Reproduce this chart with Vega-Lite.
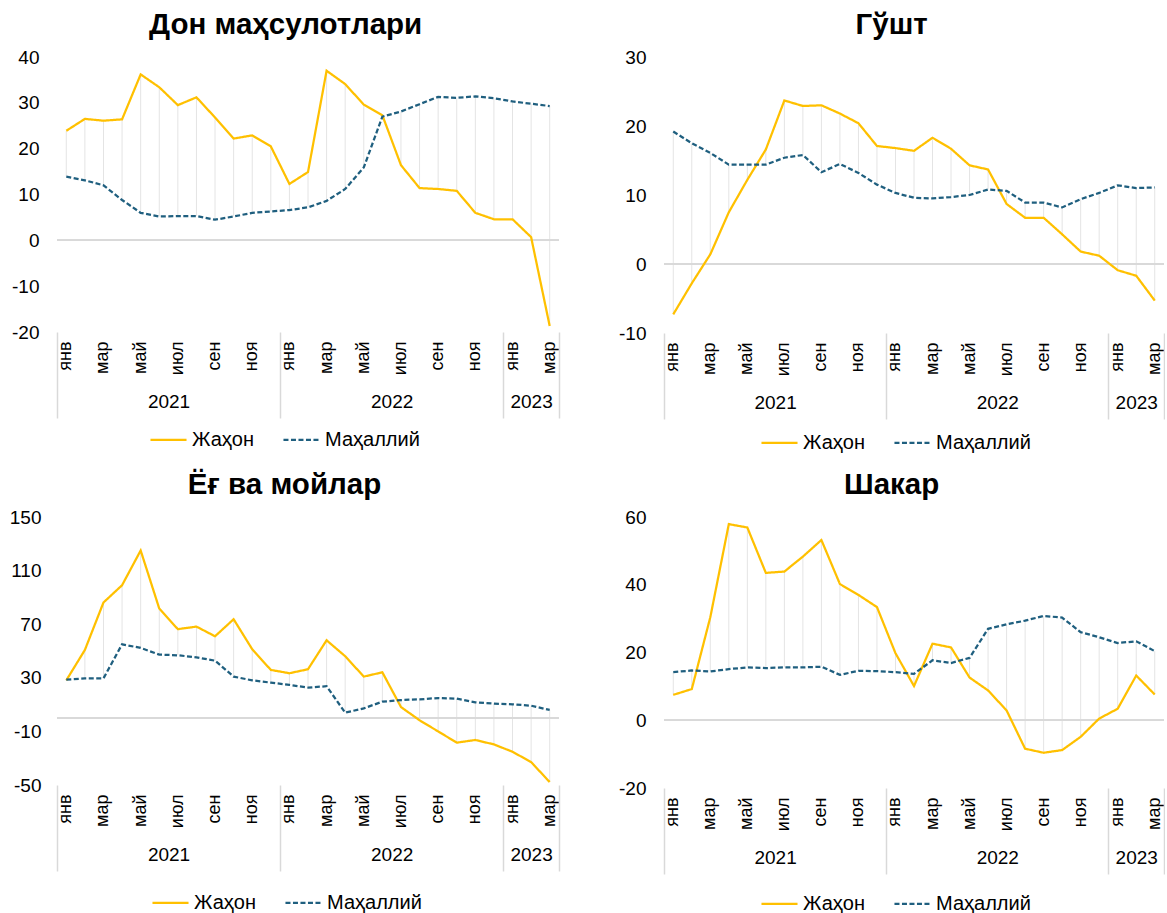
{
  "$schema": "https://vega.github.io/schema/vega-lite/v6.json",
  "background": "white",
  "padding": {"left": 9, "top": 9, "right": 0, "bottom": 0},
  "bounds": "flush",
  "columns": 2,
  "spacing": {"row": 184, "column": 105},
  "config": {
    "view": {"stroke": null},
    "font": "Liberation Sans",
    "axis": {"labelFont": "Liberation Sans", "labelColor": "#000000"},
    "legend": {"labelFont": "Liberation Sans", "labelColor": "#000000"},
    "title": {"font": "Liberation Sans", "color": "#000000"}
  },
  "datasets": {
    "don": [
      {"m": "2021-01", "Жаҳон": 23.9, "Маҳаллий": 13.9},
      {"m": "2021-02", "Жаҳон": 26.5, "Маҳаллий": 13.1},
      {"m": "2021-03", "Жаҳон": 26.1, "Маҳаллий": 12.0},
      {"m": "2021-04", "Жаҳон": 26.4, "Маҳаллий": 8.8},
      {"m": "2021-05", "Жаҳон": 36.2, "Маҳаллий": 6.0},
      {"m": "2021-06", "Жаҳон": 33.4, "Маҳаллий": 5.2},
      {"m": "2021-07", "Жаҳон": 29.5, "Маҳаллий": 5.3},
      {"m": "2021-08", "Жаҳон": 31.2, "Маҳаллий": 5.3},
      {"m": "2021-09", "Жаҳон": 26.8, "Маҳаллий": 4.5},
      {"m": "2021-10", "Жаҳон": 22.2, "Маҳаллий": 5.2},
      {"m": "2021-11", "Жаҳон": 22.9, "Маҳаллий": 6.0},
      {"m": "2021-12", "Жаҳон": 20.5, "Маҳаллий": 6.3},
      {"m": "2022-01", "Жаҳон": 12.3, "Маҳаллий": 6.6},
      {"m": "2022-02", "Жаҳон": 14.9, "Маҳаллий": 7.2},
      {"m": "2022-03", "Жаҳон": 37.0, "Маҳаллий": 8.6},
      {"m": "2022-04", "Жаҳон": 34.1, "Маҳаллий": 11.2},
      {"m": "2022-05", "Жаҳон": 29.6, "Маҳаллий": 15.9},
      {"m": "2022-06", "Жаҳон": 27.3, "Маҳаллий": 27.0},
      {"m": "2022-07", "Жаҳон": 16.4, "Маҳаллий": 28.1},
      {"m": "2022-08", "Жаҳон": 11.4, "Маҳаллий": 29.7},
      {"m": "2022-09", "Жаҳон": 11.2, "Маҳаллий": 31.3},
      {"m": "2022-10", "Жаҳон": 10.8, "Маҳаллий": 31.1},
      {"m": "2022-11", "Жаҳон": 6.0, "Маҳаллий": 31.4},
      {"m": "2022-12", "Жаҳон": 4.6, "Маҳаллий": 31.0},
      {"m": "2023-01", "Жаҳон": 4.6, "Маҳаллий": 30.3},
      {"m": "2023-02", "Жаҳон": 0.7, "Маҳаллий": 29.8},
      {"m": "2023-03", "Жаҳон": -18.7, "Маҳаллий": 29.3}
    ],
    "gusht": [
      {"m": "2021-01", "Жаҳон": -7.3, "Маҳаллий": 19.2},
      {"m": "2021-02", "Жаҳон": -2.8, "Маҳаллий": 17.5},
      {"m": "2021-03", "Жаҳон": 1.4, "Маҳаллий": 16.1},
      {"m": "2021-04", "Жаҳон": 7.5, "Маҳаллий": 14.4},
      {"m": "2021-05", "Жаҳон": 12.2, "Маҳаллий": 14.4},
      {"m": "2021-06", "Жаҳон": 16.6, "Маҳаллий": 14.4},
      {"m": "2021-07", "Жаҳон": 23.7, "Маҳаллий": 15.4},
      {"m": "2021-08", "Жаҳон": 22.9, "Маҳаллий": 15.8},
      {"m": "2021-09", "Жаҳон": 23.0, "Маҳаллий": 13.3},
      {"m": "2021-10", "Жаҳон": 21.8, "Маҳаллий": 14.5},
      {"m": "2021-11", "Жаҳон": 20.4, "Маҳаллий": 13.2},
      {"m": "2021-12", "Жаҳон": 17.1, "Маҳаллий": 11.5},
      {"m": "2022-01", "Жаҳон": 16.8, "Маҳаллий": 10.3},
      {"m": "2022-02", "Жаҳон": 16.4, "Маҳаллий": 9.6},
      {"m": "2022-03", "Жаҳон": 18.3, "Маҳаллий": 9.5},
      {"m": "2022-04", "Жаҳон": 16.7, "Маҳаллий": 9.7},
      {"m": "2022-05", "Жаҳон": 14.3, "Маҳаллий": 10.0},
      {"m": "2022-06", "Жаҳон": 13.7, "Маҳаллий": 10.8},
      {"m": "2022-07", "Жаҳон": 8.7, "Маҳаллий": 10.6},
      {"m": "2022-08", "Жаҳон": 6.7, "Маҳаллий": 8.9},
      {"m": "2022-09", "Жаҳон": 6.7, "Маҳаллий": 8.9},
      {"m": "2022-10", "Жаҳон": 4.3, "Маҳаллий": 8.2},
      {"m": "2022-11", "Жаҳон": 1.8, "Маҳаллий": 9.4},
      {"m": "2022-12", "Жаҳон": 1.2, "Маҳаллий": 10.3},
      {"m": "2023-01", "Жаҳон": -0.9, "Маҳаллий": 11.4},
      {"m": "2023-02", "Жаҳон": -1.7, "Маҳаллий": 11.0},
      {"m": "2023-03", "Жаҳон": -5.3, "Маҳаллий": 11.1}
    ],
    "yog": [
      {"m": "2021-01", "Жаҳон": 28.1, "Маҳаллий": 28.6},
      {"m": "2021-02", "Жаҳон": 50.8, "Маҳаллий": 29.6},
      {"m": "2021-03", "Жаҳон": 86.2, "Маҳаллий": 29.6},
      {"m": "2021-04", "Жаҳон": 99.1, "Маҳаллий": 55.0},
      {"m": "2021-05", "Жаҳон": 125.0, "Маҳаллий": 52.3},
      {"m": "2021-06", "Жаҳон": 81.7, "Маҳаллий": 47.3},
      {"m": "2021-07", "Жаҳон": 66.3, "Маҳаллий": 46.8},
      {"m": "2021-08", "Жаҳон": 68.2, "Маҳаллий": 45.3},
      {"m": "2021-09", "Жаҳон": 61.0, "Маҳаллий": 42.8},
      {"m": "2021-10", "Жаҳон": 73.7, "Маҳаллий": 30.9},
      {"m": "2021-11", "Жаҳон": 51.3, "Маҳаллий": 28.1},
      {"m": "2021-12", "Жаҳон": 35.9, "Маҳаллий": 26.4},
      {"m": "2022-01", "Жаҳон": 33.4, "Маҳаллий": 24.7},
      {"m": "2022-02", "Жаҳон": 36.4, "Маҳаллий": 22.7},
      {"m": "2022-03", "Жаҳон": 58.0, "Маҳаллий": 23.7},
      {"m": "2022-04", "Жаҳон": 46.1, "Маҳаллий": 4.0},
      {"m": "2022-05", "Жаҳон": 30.9, "Маҳаллий": 7.2},
      {"m": "2022-06", "Жаҳон": 34.1, "Маҳаллий": 12.2},
      {"m": "2022-07", "Жаҳон": 8.2, "Маҳаллий": 13.4},
      {"m": "2022-08", "Жаҳон": -1.7, "Маҳаллий": 13.9},
      {"m": "2022-09", "Жаҳон": -10.0, "Маҳаллий": 14.9},
      {"m": "2022-10", "Жаҳон": -18.4, "Маҳаллий": 14.4},
      {"m": "2022-11", "Жаҳон": -16.4, "Маҳаллий": 11.7},
      {"m": "2022-12", "Жаҳон": -19.7, "Маҳаллий": 10.7},
      {"m": "2023-01", "Жаҳон": -25.2, "Маҳаллий": 10.2},
      {"m": "2023-02", "Жаҳон": -32.9, "Маҳаллий": 9.2},
      {"m": "2023-03", "Жаҳон": -47.8, "Маҳаллий": 6.0}
    ],
    "shakar": [
      {"m": "2021-01", "Жаҳон": 7.5, "Маҳаллий": 14.2},
      {"m": "2021-02", "Жаҳон": 9.2, "Маҳаллий": 14.7},
      {"m": "2021-03", "Жаҳон": 30.4, "Маҳаллий": 14.4},
      {"m": "2021-04", "Жаҳон": 57.9, "Маҳаллий": 15.1},
      {"m": "2021-05", "Жаҳон": 56.9, "Маҳаллий": 15.6},
      {"m": "2021-06", "Жаҳон": 43.5, "Маҳаллий": 15.4},
      {"m": "2021-07", "Жаҳон": 43.9, "Маҳаллий": 15.6},
      {"m": "2021-08", "Жаҳон": 48.3, "Маҳаллий": 15.6},
      {"m": "2021-09", "Жаҳон": 53.2, "Маҳаллий": 15.8},
      {"m": "2021-10", "Жаҳон": 40.2, "Маҳаллий": 13.4},
      {"m": "2021-11", "Жаҳон": 37.0, "Маҳаллий": 14.6},
      {"m": "2021-12", "Жаҳон": 33.4, "Маҳаллий": 14.5},
      {"m": "2022-01", "Жаҳон": 19.8, "Маҳаллий": 14.2},
      {"m": "2022-02", "Жаҳон": 10.1, "Маҳаллий": 13.7},
      {"m": "2022-03", "Жаҳон": 22.6, "Маҳаллий": 17.7},
      {"m": "2022-04", "Жаҳон": 21.5, "Маҳаллий": 16.9},
      {"m": "2022-05", "Жаҳон": 12.6, "Маҳаллий": 18.4},
      {"m": "2022-06", "Жаҳон": 8.8, "Маҳаллий": 27.0},
      {"m": "2022-07", "Жаҳон": 2.9, "Маҳаллий": 28.3},
      {"m": "2022-08", "Жаҳон": -8.4, "Маҳаллий": 29.4},
      {"m": "2022-09", "Жаҳон": -9.6, "Маҳаллий": 30.8},
      {"m": "2022-10", "Жаҳон": -8.8, "Маҳаллий": 30.3},
      {"m": "2022-11", "Жаҳон": -4.9, "Маҳаллий": 26.0},
      {"m": "2022-12", "Жаҳон": 0.5, "Маҳаллий": 24.5},
      {"m": "2023-01", "Жаҳон": 3.4, "Маҳаллий": 22.8},
      {"m": "2023-02", "Жаҳон": 13.2, "Маҳаллий": 23.3},
      {"m": "2023-03", "Жаҳон": 7.6, "Маҳаллий": 20.4}
    ]
  },
  "concat": [
    {
      "title": {"text": "Дон маҳсулотлари", "frame": "bounds", "anchor": "middle", "fontSize": 29.5, "fontWeight": "bold", "offset": 8},
      "width": 502, "height": 275,
      "data": {"name": "don"},
      "resolve": {"axis": {"x": "independent"}},
      "layer": [
        {
          "mark": {"type": "rule", "color": "#e4e4e4", "strokeWidth": 1},
          "encoding": {
            "x": {"field": "m", "type": "nominal", "scale": {"type": "band", "paddingInner": 0, "paddingOuter": 0},
              "axis": {"title": null, "values": ["2021-01","2021-03","2021-05","2021-07","2021-09","2021-11","2022-01","2022-03","2022-05","2022-07","2022-09","2022-11","2023-01","2023-03"],
                "labelExpr": "['янв','фев','мар','апр','май','июн','июл','авг','сен','окт','ноя','дек'][toNumber(substring(datum.value,5,7))-1]",
                "labelAngle": -90, "labelFontSize": 18, "labelPadding": 9, "ticks": false, "domain": false, "grid": false, "labelOverlap": false}},
            "y": {"field": "Жаҳон", "type": "quantitative", "title": null, "scale": {"domain": [-20, 40], "nice": false},
              "axis": {"values": [-20,-10,0,10,20,30,40], "labelExpr": "'' + datum.value", "domain": false, "ticks": false, "grid": false, "labelFontSize": 19, "labelPadding": 18}},
            "y2": {"field": "Маҳаллий"}
          }
        },
        {
          "mark": {"type": "rule", "color": "#d9d9d9", "strokeWidth": 1.5},
          "encoding": {"y": {"datum": 0, "type": "quantitative", "title": null}}
        },
        {
          "transform": [{"fold": ["Жаҳон", "Маҳаллий"], "as": ["series", "value"]}],
          "mark": {"type": "line", "strokeWidth": 2.25},
          "encoding": {
            "x": {"field": "m", "type": "nominal", "scale": {"type": "band", "paddingInner": 0, "paddingOuter": 0},
              "axis": {"orient": "bottom", "title": null, "values": ["2021-01","2021-07","2021-12","2022-07","2022-12","2023-02","2023-03"],
                "labelExpr": "datum.value == '2021-07' ? '2021' : datum.value == '2022-07' ? '2022' : datum.value == '2023-02' ? '2023' : ''",
                "labelAngle": 0, "labelFontSize": 19, "labelOverlap": false,
                "labelOffset": {"condition": {"test": "datum.value == '2023-02'", "value": 0}, "value": -9.3},
                "labelPadding": -26, "tickBand": "extent", "tickSize": 86, "tickWidth": 1.5, "tickColor": "#d9d9d9",
                "tickOpacity": {"condition": {"test": "!datum.value || datum.value == '2021-12' || datum.value == '2022-12' || datum.value == '2023-03'", "value": 1}, "value": 0},
                "domain": false, "grid": false}},
            "y": {"field": "value", "type": "quantitative", "title": null},
            "color": {"field": "series", "type": "nominal", "scale": {"domain": ["Жаҳон", "Маҳаллий"], "range": ["#FFC000", "#1F5F7F"]},
              "legend": {"orient": "none", "legendX": 92, "legendY": 363, "direction": "horizontal", "title": null, "symbolType": "stroke", "symbolSize": 1300, "symbolStrokeWidth": 2.25, "labelFontSize": 20, "columnPadding": 24, "labelOffset": 4}},
            "strokeDash": {"field": "series", "type": "nominal", "scale": {"domain": ["Жаҳон", "Маҳаллий"], "range": [[1, 0], [5, 2.5]]},
              "legend": {"orient": "none", "legendX": 92, "legendY": 363, "direction": "horizontal", "title": null, "symbolType": "stroke", "symbolSize": 1300, "symbolStrokeWidth": 2.25, "labelFontSize": 20, "columnPadding": 24, "labelOffset": 4}}
          }
        }
      ]
    },
    {
      "title": {"text": "Гўшт", "frame": "bounds", "anchor": "middle", "fontSize": 29.5, "fontWeight": "bold", "offset": 8},
      "width": 500, "height": 276,
      "data": {"name": "gusht"},
      "resolve": {"axis": {"x": "independent"}},
      "layer": [
        {
          "mark": {"type": "rule", "color": "#e4e4e4", "strokeWidth": 1},
          "encoding": {
            "x": {"field": "m", "type": "nominal", "scale": {"type": "band", "paddingInner": 0, "paddingOuter": 0},
              "axis": {"title": null, "values": ["2021-01","2021-03","2021-05","2021-07","2021-09","2021-11","2022-01","2022-03","2022-05","2022-07","2022-09","2022-11","2023-01","2023-03"],
                "labelExpr": "['янв','фев','мар','апр','май','июн','июл','авг','сен','окт','ноя','дек'][toNumber(substring(datum.value,5,7))-1]",
                "labelAngle": -90, "labelFontSize": 18, "labelPadding": 9, "ticks": false, "domain": false, "grid": false, "labelOverlap": false}},
            "y": {"field": "Жаҳон", "type": "quantitative", "title": null, "scale": {"domain": [-10, 30], "nice": false},
              "axis": {"values": [-10,0,10,20,30], "labelExpr": "'' + datum.value", "domain": false, "ticks": false, "grid": false, "labelFontSize": 19, "labelPadding": 18}},
            "y2": {"field": "Маҳаллий"}
          }
        },
        {
          "mark": {"type": "rule", "color": "#d9d9d9", "strokeWidth": 1.5},
          "encoding": {"y": {"datum": 0, "type": "quantitative", "title": null}}
        },
        {
          "transform": [{"fold": ["Жаҳон", "Маҳаллий"], "as": ["series", "value"]}],
          "mark": {"type": "line", "strokeWidth": 2.25},
          "encoding": {
            "x": {"field": "m", "type": "nominal", "scale": {"type": "band", "paddingInner": 0, "paddingOuter": 0},
              "axis": {"orient": "bottom", "title": null, "values": ["2021-01","2021-07","2021-12","2022-07","2022-12","2023-02","2023-03"],
                "labelExpr": "datum.value == '2021-07' ? '2021' : datum.value == '2022-07' ? '2022' : datum.value == '2023-02' ? '2023' : ''",
                "labelAngle": 0, "labelFontSize": 19, "labelOverlap": false,
                "labelOffset": {"condition": {"test": "datum.value == '2023-02'", "value": 0}, "value": -9.3},
                "labelPadding": -26, "tickBand": "extent", "tickSize": 86, "tickWidth": 1.5, "tickColor": "#d9d9d9",
                "tickOpacity": {"condition": {"test": "!datum.value || datum.value == '2021-12' || datum.value == '2022-12' || datum.value == '2023-03'", "value": 1}, "value": 0},
                "domain": false, "grid": false}},
            "y": {"field": "value", "type": "quantitative", "title": null},
            "color": {"field": "series", "type": "nominal", "scale": {"domain": ["Жаҳон", "Маҳаллий"], "range": ["#FFC000", "#1F5F7F"]},
              "legend": {"orient": "none", "legendX": 96, "legendY": 366, "direction": "horizontal", "title": null, "symbolType": "stroke", "symbolSize": 1300, "symbolStrokeWidth": 2.25, "labelFontSize": 20, "columnPadding": 24, "labelOffset": 4}},
            "strokeDash": {"field": "series", "type": "nominal", "scale": {"domain": ["Жаҳон", "Маҳаллий"], "range": [[1, 0], [5, 2.5]]},
              "legend": {"orient": "none", "legendX": 96, "legendY": 366, "direction": "horizontal", "title": null, "symbolType": "stroke", "symbolSize": 1300, "symbolStrokeWidth": 2.25, "labelFontSize": 20, "columnPadding": 24, "labelOffset": 4}}
          }
        }
      ]
    },
    {
      "title": {"text": "Ёғ ва мойлар", "frame": "bounds", "anchor": "middle", "fontSize": 29.5, "fontWeight": "bold", "offset": 8},
      "width": 502, "height": 268,
      "data": {"name": "yog"},
      "resolve": {"axis": {"x": "independent"}},
      "layer": [
        {
          "mark": {"type": "rule", "color": "#e4e4e4", "strokeWidth": 1},
          "encoding": {
            "x": {"field": "m", "type": "nominal", "scale": {"type": "band", "paddingInner": 0, "paddingOuter": 0},
              "axis": {"title": null, "values": ["2021-01","2021-03","2021-05","2021-07","2021-09","2021-11","2022-01","2022-03","2022-05","2022-07","2022-09","2022-11","2023-01","2023-03"],
                "labelExpr": "['янв','фев','мар','апр','май','июн','июл','авг','сен','окт','ноя','дек'][toNumber(substring(datum.value,5,7))-1]",
                "labelAngle": -90, "labelFontSize": 18, "labelPadding": 9, "ticks": false, "domain": false, "grid": false, "labelOverlap": false}},
            "y": {"field": "Жаҳон", "type": "quantitative", "title": null, "scale": {"domain": [-50, 150], "nice": false},
              "axis": {"values": [-50,-10,30,70,110,150], "labelExpr": "'' + datum.value", "domain": false, "ticks": false, "grid": false, "labelFontSize": 19, "labelPadding": 16}},
            "y2": {"field": "Маҳаллий"}
          }
        },
        {
          "mark": {"type": "rule", "color": "#d9d9d9", "strokeWidth": 1.5},
          "encoding": {"y": {"datum": 0, "type": "quantitative", "title": null}}
        },
        {
          "transform": [{"fold": ["Жаҳон", "Маҳаллий"], "as": ["series", "value"]}],
          "mark": {"type": "line", "strokeWidth": 2.25},
          "encoding": {
            "x": {"field": "m", "type": "nominal", "scale": {"type": "band", "paddingInner": 0, "paddingOuter": 0},
              "axis": {"orient": "bottom", "title": null, "values": ["2021-01","2021-07","2021-12","2022-07","2022-12","2023-02","2023-03"],
                "labelExpr": "datum.value == '2021-07' ? '2021' : datum.value == '2022-07' ? '2022' : datum.value == '2023-02' ? '2023' : ''",
                "labelAngle": 0, "labelFontSize": 19, "labelOverlap": false,
                "labelOffset": {"condition": {"test": "datum.value == '2023-02'", "value": 0}, "value": -9.3},
                "labelPadding": -26, "tickBand": "extent", "tickSize": 86, "tickWidth": 1.5, "tickColor": "#d9d9d9",
                "tickOpacity": {"condition": {"test": "!datum.value || datum.value == '2021-12' || datum.value == '2022-12' || datum.value == '2023-03'", "value": 1}, "value": 0},
                "domain": false, "grid": false}},
            "y": {"field": "value", "type": "quantitative", "title": null},
            "color": {"field": "series", "type": "nominal", "scale": {"domain": ["Жаҳон", "Маҳаллий"], "range": ["#FFC000", "#1F5F7F"]},
              "legend": {"orient": "none", "legendX": 94, "legendY": 366, "direction": "horizontal", "title": null, "symbolType": "stroke", "symbolSize": 1300, "symbolStrokeWidth": 2.25, "labelFontSize": 20, "columnPadding": 24, "labelOffset": 4}},
            "strokeDash": {"field": "series", "type": "nominal", "scale": {"domain": ["Жаҳон", "Маҳаллий"], "range": [[1, 0], [5, 2.5]]},
              "legend": {"orient": "none", "legendX": 94, "legendY": 366, "direction": "horizontal", "title": null, "symbolType": "stroke", "symbolSize": 1300, "symbolStrokeWidth": 2.25, "labelFontSize": 20, "columnPadding": 24, "labelOffset": 4}}
          }
        }
      ]
    },
    {
      "title": {"text": "Шакар", "frame": "bounds", "anchor": "middle", "fontSize": 29.5, "fontWeight": "bold", "offset": 8},
      "width": 500, "height": 271,
      "data": {"name": "shakar"},
      "resolve": {"axis": {"x": "independent"}},
      "layer": [
        {
          "mark": {"type": "rule", "color": "#e4e4e4", "strokeWidth": 1},
          "encoding": {
            "x": {"field": "m", "type": "nominal", "scale": {"type": "band", "paddingInner": 0, "paddingOuter": 0},
              "axis": {"title": null, "values": ["2021-01","2021-03","2021-05","2021-07","2021-09","2021-11","2022-01","2022-03","2022-05","2022-07","2022-09","2022-11","2023-01","2023-03"],
                "labelExpr": "['янв','фев','мар','апр','май','июн','июл','авг','сен','окт','ноя','дек'][toNumber(substring(datum.value,5,7))-1]",
                "labelAngle": -90, "labelFontSize": 18, "labelPadding": 9, "ticks": false, "domain": false, "grid": false, "labelOverlap": false}},
            "y": {"field": "Жаҳон", "type": "quantitative", "title": null, "scale": {"domain": [-20, 60], "nice": false},
              "axis": {"values": [-20,0,20,40,60], "labelExpr": "'' + datum.value", "domain": false, "ticks": false, "grid": false, "labelFontSize": 19, "labelPadding": 18}},
            "y2": {"field": "Маҳаллий"}
          }
        },
        {
          "mark": {"type": "rule", "color": "#d9d9d9", "strokeWidth": 1.5},
          "encoding": {"y": {"datum": 0, "type": "quantitative", "title": null}}
        },
        {
          "transform": [{"fold": ["Жаҳон", "Маҳаллий"], "as": ["series", "value"]}],
          "mark": {"type": "line", "strokeWidth": 2.25},
          "encoding": {
            "x": {"field": "m", "type": "nominal", "scale": {"type": "band", "paddingInner": 0, "paddingOuter": 0},
              "axis": {"orient": "bottom", "title": null, "values": ["2021-01","2021-07","2021-12","2022-07","2022-12","2023-02","2023-03"],
                "labelExpr": "datum.value == '2021-07' ? '2021' : datum.value == '2022-07' ? '2022' : datum.value == '2023-02' ? '2023' : ''",
                "labelAngle": 0, "labelFontSize": 19, "labelOverlap": false,
                "labelOffset": {"condition": {"test": "datum.value == '2023-02'", "value": 0}, "value": -9.3},
                "labelPadding": -26, "tickBand": "extent", "tickSize": 86, "tickWidth": 1.5, "tickColor": "#d9d9d9",
                "tickOpacity": {"condition": {"test": "!datum.value || datum.value == '2021-12' || datum.value == '2022-12' || datum.value == '2023-03'", "value": 1}, "value": 0},
                "domain": false, "grid": false}},
            "y": {"field": "value", "type": "quantitative", "title": null},
            "color": {"field": "series", "type": "nominal", "scale": {"domain": ["Жаҳон", "Маҳаллий"], "range": ["#FFC000", "#1F5F7F"]},
              "legend": {"orient": "none", "legendX": 96, "legendY": 367, "direction": "horizontal", "title": null, "symbolType": "stroke", "symbolSize": 1300, "symbolStrokeWidth": 2.25, "labelFontSize": 20, "columnPadding": 24, "labelOffset": 4}},
            "strokeDash": {"field": "series", "type": "nominal", "scale": {"domain": ["Жаҳон", "Маҳаллий"], "range": [[1, 0], [5, 2.5]]},
              "legend": {"orient": "none", "legendX": 96, "legendY": 367, "direction": "horizontal", "title": null, "symbolType": "stroke", "symbolSize": 1300, "symbolStrokeWidth": 2.25, "labelFontSize": 20, "columnPadding": 24, "labelOffset": 4}}
          }
        }
      ]
    }
  ],
  "resolve": {"legend": {"color": "independent", "strokeDash": "independent"}, "scale": {"color": "independent", "strokeDash": "independent"}}
}
